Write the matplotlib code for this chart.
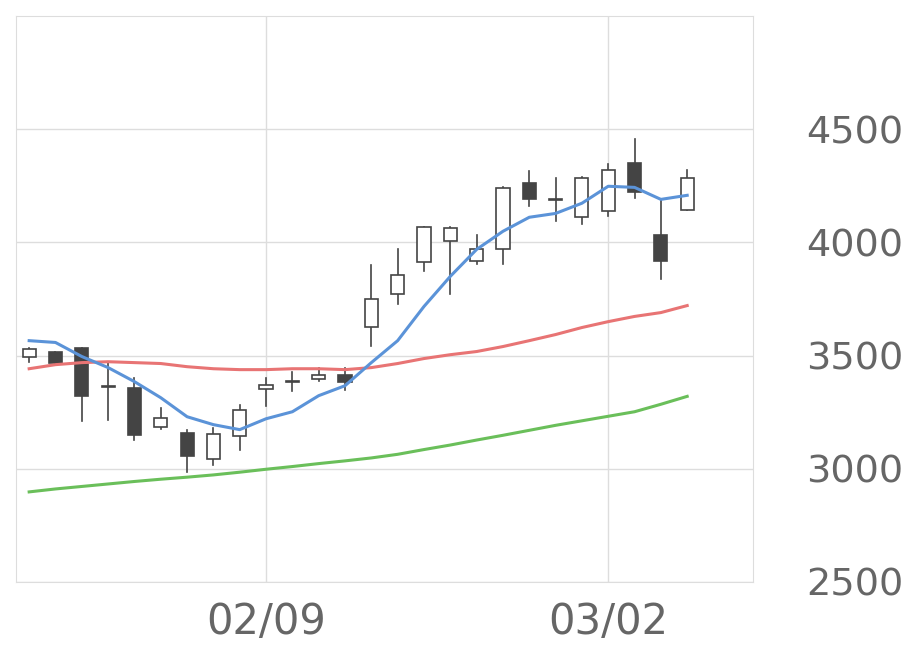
import matplotlib
matplotlib.use("Agg")
import matplotlib.pyplot as plt
from matplotlib.patches import Rectangle

opens  = [3495,3518,3535,3360,3358,3186,3159,3044,3146,3354,3385,3398,3416,3628,3770,3912,4004,3916,3969,4261,4190,4111,4137,4350,4031,4142]
closes = [3527,3469,3323,3363,3150,3225,3058,3155,3261,3372,3384,3416,3385,3748,3858,4066,4062,3969,4239,4190,4186,4283,4319,4221,3920,4283]
highs  = [3535,3518,3535,3473,3402,3270,3173,3181,3283,3402,3429,3447,3447,3898,3973,4066,4066,4031,4244,4314,4283,4288,4345,4456,4190,4319]
lows   = [3473,3465,3212,3217,3128,3177,2987,3018,3084,3279,3345,3389,3350,3544,3730,3872,3774,3903,3903,4159,4093,4080,4115,4195,3840,4142]
ma_short = [3566,3558,3496,3447,3385,3314,3230,3195,3173,3221,3252,3323,3367,3469,3566,3717,3850,3969,4049,4111,4128,4173,4248,4243,4190,4208]
ma_mid   = [3442,3460,3469,3473,3469,3465,3451,3442,3438,3438,3442,3442,3438,3447,3465,3487,3504,3518,3540,3566,3593,3624,3650,3673,3690,3721]
ma_long  = [2898,2911,2922,2933,2944,2954,2963,2973,2985,2998,3010,3023,3035,3048,3064,3085,3105,3127,3148,3170,3192,3212,3232,3252,3285,3320]
xtick_pos = [9, 22]
xtick_labels = ["02/09", "03/02"]
yticks = [2500, 3000, 3500, 4000, 4500]

fig = plt.figure(figsize=(9.2, 6.69), dpi=100)
ax = fig.add_axes([16/920, 1-582/669, (753-16)/920, (582-16)/669])
ax.set_xlim(-0.5, 27.5)
ax.set_ylim(2500, 5000)
ax.set_xticks(xtick_pos)
ax.set_xticklabels(xtick_labels)
ax.set_yticks(yticks)
ax.yaxis.tick_right()
ax.grid(True, color="#dddddd", linewidth=1)
ax.set_axisbelow(True)
for s in ax.spines.values():
    s.set_color("#dddddd")
ax.tick_params(length=0, labelcolor="#666666")
ax.tick_params(axis="y", pad=38, labelsize=27.5)
ax.tick_params(axis="x", pad=14, labelsize=30)

w = 0.5
for i in range(len(opens)):
    o, c, h, l = opens[i], closes[i], highs[i], lows[i]
    ax.plot([i, i], [l, h], color="#444444", lw=1.2, zorder=2)
    up = c >= o
    lo, hi = min(o, c), max(o, c)
    ax.add_patch(Rectangle((i - w/2, lo), w, max(hi - lo, 4),
                           facecolor="white" if up else "#444444",
                           edgecolor="#444444", lw=1.2, zorder=3))

x = list(range(len(opens)))
ax.plot(x, ma_mid, color="#e87474", lw=2.2, zorder=4)
ax.plot(x, ma_long, color="#6abf5a", lw=2.2, zorder=4)
ax.plot(x, ma_short, color="#5b93d8", lw=2.2, zorder=4)

fig.savefig("out.png", dpi=100)
